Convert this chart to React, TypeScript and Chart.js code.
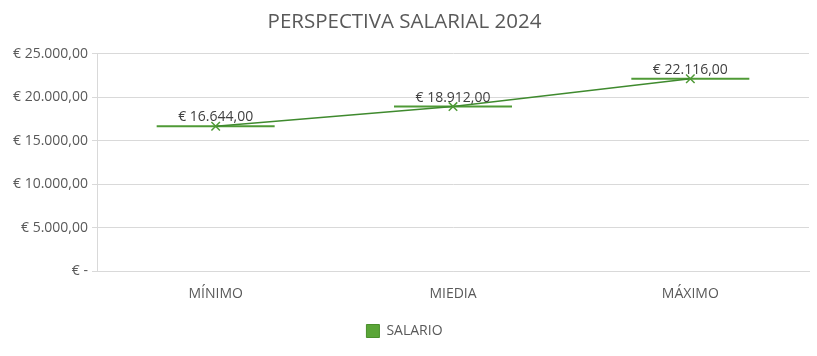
import React, { useEffect, useRef } from "react";
import { Chart, registerables } from "chart.js";

Chart.register(...registerables);

const categories = ["MÍNIMO", "MIEDIA", "MÁXIMO"];
const salario = [16644, 18912, 22116];
const yTicks = [0, 5000, 10000, 15000, 20000, 25000];
const title = "PERSPECTIVA SALARIAL 2024";
const seriesName = "SALARIO";

const FONT = "'Open Sans', 'Noto Sans', sans-serif";
const GRAY = "#595959";

function fmt(v: number): string {
  if (v === 0) return "€ -";
  const fixed = v.toFixed(2);
  const [intPart, dec] = fixed.split(".");
  const withDots = intPart.replace(/\B(?=(\d{3})+(?!\d))/g, ".");
  return "€ " + withDots + "," + dec;
}

const labelPlugin = {
  id: "valueLabels",
  afterDatasetsDraw(chart: any) {
    const meta = chart.getDatasetMeta(1);
    const ctx = chart.ctx;
    ctx.save();
    ctx.font = "14px " + FONT;
    ctx.fillStyle = "#404040";
    ctx.textAlign = "center";
    ctx.textBaseline = "middle";
    meta.data.forEach((pt: any, i: number) => {
      ctx.fillText(fmt(salario[i]), pt.x, pt.y - 9);
    });
    ctx.restore();
  },
};

export default function App() {
  const ref = useRef<HTMLCanvasElement>(null);
  useEffect(() => {
    document.body.style.margin = "0";
    const chart = new Chart(ref.current!, {
      type: "line",
      data: {
        labels: categories,
        datasets: [
          {
            label: "bars",
            data: salario,
            showLine: false,
            pointStyle: "line",
            pointRadius: 59,
            pointHoverRadius: 59,
            borderColor: "#4f9a36",
            backgroundColor: "#4f9a36",
            pointBorderWidth: 2,
            clip: false,
            order: 2,
          },
          {
            label: seriesName,
            data: salario,
            borderColor: "#3f8a2e",
            backgroundColor: "#5aa537",
            borderWidth: 1.5,
            pointStyle: "crossRot",
            pointRadius: 6,
            pointBorderColor: "#4f9a36",
            pointBorderWidth: 1.5,
            tension: 0,
            clip: false,
            order: 1,
          },
        ],
      },
      options: {
        responsive: false,
        animation: false,
        layout: { autoPadding: false, padding: { left: 0, right: 8, top: 0, bottom: 8 } },
        plugins: {
          title: {
            display: true,
            text: title,
            color: GRAY,
            font: { family: FONT, size: 20.5, weight: "normal" },
            padding: { top: 10, bottom: 19 },
          },
          legend: {
            position: "bottom",
            labels: {
              generateLabels: () => [
                {
                  text: seriesName,
                  fillStyle: "#5aa537",
                  strokeStyle: "#4a8f2c",
                  lineWidth: 1,
                  pointStyle: "rect",
                  hidden: false,
                  datasetIndex: 1,
                  fontColor: GRAY,
                } as any,
              ],
              boxWidth: 13,
              boxHeight: 13,
              color: GRAY,
              font: { family: FONT, size: 14 },
              padding: 10,
            },
          },
          tooltip: { enabled: false },
        },
        scales: {
          x: {
            offset: true,
            grid: { display: false, drawTicks: false },
            border: { color: "#d9d9d9" },
            afterFit: (scale: any) => {
              scale.height = scale.height - 2;
            },
            ticks: {
              color: GRAY,
              font: { family: FONT, size: 14 },
              padding: 14,
            },
          },
          y: {
            min: 0,
            max: 25000,
            afterBuildTicks: (scale: any) => {
              scale.ticks = yTicks.map((v) => ({ value: v }));
            },
            afterFit: (scale: any) => {
              scale.width = 97;
            },
            grid: { color: "#d9d9d9", tickLength: 5 },
            border: { color: "#d9d9d9" },
            ticks: {
              color: GRAY,
              font: { family: FONT, size: 14 },
              padding: 4,
              callback: (v: any) => fmt(Number(v)),
            },
          },
        },
      },
      plugins: [labelPlugin],
    });
    return () => chart.destroy();
  }, []);
  return (
    <div style={{ width: 817, height: 356 }}>
      <canvas ref={ref} width={817} height={356} />
    </div>
  );
}
